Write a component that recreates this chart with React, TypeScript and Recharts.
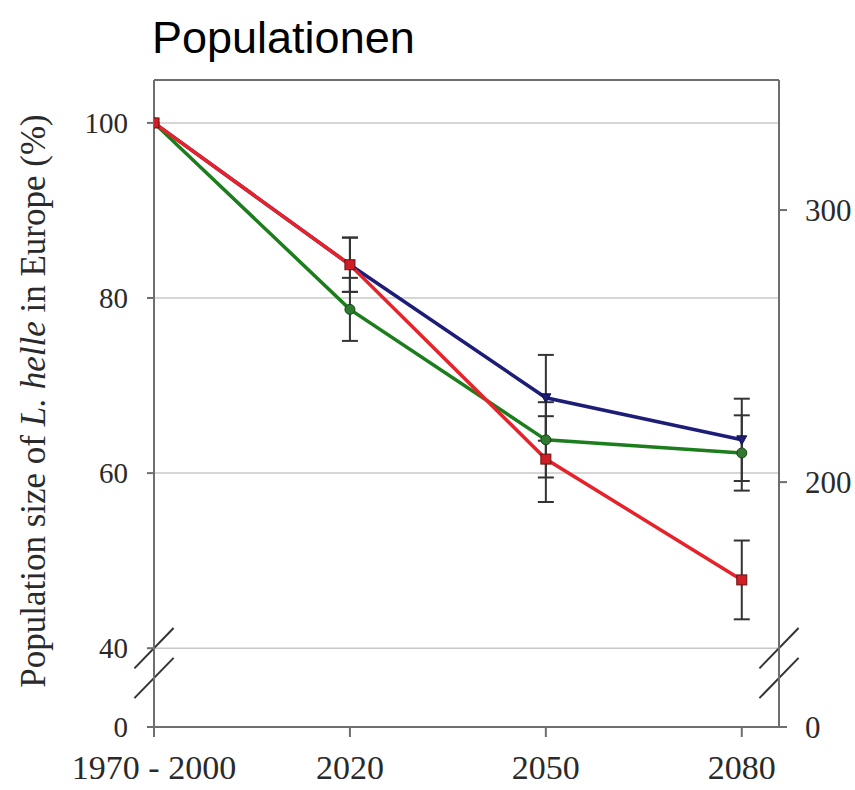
import React from "react";
import { LineChart, Line, XAxis, YAxis, ErrorBar, ReferenceLine } from "recharts";

// x categories (placed at 0,1,2,3 on a numeric axis so the frame can run past 2080)
const categories = ["1970 - 2000", "2020", "2050", "2080"];

// population size (% of 1970-2000), three scenarios
const blueValues = [100, 83.8, 68.6, 63.8];
const blueErrors = [0, 3.1, 4.9, 4.7];
const greenValues = [100, 78.7, 63.8, 62.3];
const greenErrors = [0, 3.6, 4.3, 4.3];
const redValues = [100, 83.8, 61.6, 47.8];
const redErrors = [0, 3.1, 4.9, 4.5];

// broken axes: the lowest tick stands for "0"
const leftBreakZero = 31;
const leftTop = 104.9;
const leftTicks = [leftBreakZero, 40, 60, 80, 100];
const gridValues = [40, 60, 80, 100];
const rightBreakZero = 110;
const rightTicks = [rightBreakZero, 200, 300];
const xMax = 3.19;

const data = categories.map((c, i) => ({
  idx: i,
  label: c,
  blue: blueValues[i],
  blueErr: blueErrors[i],
  green: greenValues[i],
  greenErr: greenErrors[i],
  red: redValues[i],
  redErr: redErrors[i],
}));

const axisColor = "#6e6e6e";
const serif = "'Liberation Serif', 'DejaVu Serif', serif";

const SquareDot = (props: any) => {
  const { cx, cy } = props;
  if (cx == null || cy == null) return null;
  return <rect x={cx - 5} y={cy - 5} width={10} height={10} fill="#cf1f26" stroke="#6e1010" strokeWidth={1} />;
};

const CircleDot = (props: any) => {
  const { cx, cy } = props;
  if (cx == null || cy == null) return null;
  return <circle cx={cx} cy={cy} r={5} fill="#2f7a2f" stroke="#174417" strokeWidth={1} />;
};

const TriangleDot = (props: any) => {
  const { cx, cy } = props;
  if (cx == null || cy == null) return null;
  return (
    <polygon
      points={`${cx - 5},${cy - 4} ${cx + 5},${cy - 4} ${cx},${cy + 5}`}
      fill="#1d1d78"
      stroke="#10104a"
      strokeWidth={1}
    />
  );
};

const YLabel = () => (
  <text
    x={45}
    y={401}
    transform="rotate(-90, 45, 401)"
    textAnchor="middle"
    fontFamily={serif}
    fontSize={35}
    fill="#2a2a2a"
  >
    <tspan>Population size of </tspan>
    <tspan fontStyle="italic">L. helle</tspan>
    <tspan> in Europe (%)</tspan>
  </text>
);

// the "//" marks across each axis at the break
const breakMarks = [
  { x: 0, y: 40 },
  { x: 0, y: 36.6 },
  { x: xMax, y: 40 },
  { x: xMax, y: 36.6 },
];

export default function App() {
  return (
    <div style={{ position: "absolute", left: 0, top: 0, width: 855, height: 790, background: "#fff" }}>
      <div
        style={{
          position: "absolute",
          left: 152,
          top: 12,
          fontFamily: "'Liberation Sans', Arial, sans-serif",
          fontSize: 45,
          lineHeight: "52px",
          color: "#000",
        }}
      >
        Populationen
      </div>
      <LineChart
        width={855}
        height={790}
        data={data}
        margin={{ top: 80, right: 0, bottom: 0, left: 0 }}
      >
        <XAxis
          xAxisId="bottom"
          type="number"
          dataKey="idx"
          domain={[0, xMax]}
          ticks={[0, 1, 2, 3]}
          tickFormatter={(v: number) => categories[v] ?? ""}
          allowDataOverflow
          height={63}
          tickSize={10}
          tickMargin={18}
          axisLine={{ stroke: axisColor, strokeWidth: 2 }}
          tickLine={{ stroke: axisColor, strokeWidth: 2 }}
          tick={{ fontFamily: serif, fontSize: 34, fill: "#2a2a2a" }}
        />
        <YAxis
          yAxisId="left"
          type="number"
          domain={[leftBreakZero, leftTop]}
          ticks={leftTicks}
          allowDataOverflow
          width={154}
          tickSize={7}
          tickMargin={19}
          tickFormatter={(v: number) => (v === leftBreakZero ? "0" : String(v))}
          axisLine={{ stroke: axisColor, strokeWidth: 2 }}
          tickLine={{ stroke: axisColor, strokeWidth: 2 }}
          tick={{ fontFamily: serif, fontSize: 29, fill: "#2a2a2a" }}
          label={<YLabel />}
        />
        <YAxis
          yAxisId="right"
          orientation="right"
          type="number"
          domain={[rightBreakZero, 347.8]}
          ticks={rightTicks}
          allowDataOverflow
          width={76}
          tickSize={8}
          tickMargin={18}
          tickFormatter={(v: number) => (v === rightBreakZero ? "0" : String(v))}
          axisLine={{ stroke: axisColor, strokeWidth: 2 }}
          tickLine={{ stroke: axisColor, strokeWidth: 2 }}
          tick={{ fontFamily: serif, fontSize: 31, fill: "#2a2a2a" }}
        />
        {gridValues.map((v) => (
          <ReferenceLine
            key={`g-${v}`}
            xAxisId="bottom"
            yAxisId="left"
            y={v}
            stroke="#c8c8c8"
            strokeWidth={1.5}
          />
        ))}
        {/* top frame line */}
        <ReferenceLine
          xAxisId="bottom"
          yAxisId="left"
          y={leftTop}
          ifOverflow="visible"
          stroke={axisColor}
          strokeWidth={2}
        />
        {breakMarks.map((m, i) => (
          <ReferenceLine
            key={`b-${i}`}
            xAxisId="bottom"
            yAxisId="left"
            ifOverflow="visible"
            segment={[
              { x: m.x - 0.1, y: m.y - 2.3 },
              { x: m.x + 0.1, y: m.y + 2.3 },
            ]}
            stroke="#333"
            strokeWidth={2}
          />
        ))}
        <Line
          xAxisId="bottom"
          yAxisId="left"
          dataKey="blue"
          stroke="#1d1d78"
          strokeWidth={3.5}
          dot={<TriangleDot />}
          isAnimationActive={false}
        >
          <ErrorBar dataKey="blueErr" direction="y" width={8} stroke="#333" strokeWidth={2} />
        </Line>
        <Line
          xAxisId="bottom"
          yAxisId="left"
          dataKey="green"
          stroke="#1c7d1c"
          strokeWidth={3.5}
          dot={<CircleDot />}
          isAnimationActive={false}
        >
          <ErrorBar dataKey="greenErr" direction="y" width={8} stroke="#333" strokeWidth={2} />
        </Line>
        <Line
          xAxisId="bottom"
          yAxisId="left"
          dataKey="red"
          stroke="#e6232b"
          strokeWidth={3.5}
          dot={<SquareDot />}
          isAnimationActive={false}
        >
          <ErrorBar dataKey="redErr" direction="y" width={8} stroke="#333" strokeWidth={2} />
        </Line>
      </LineChart>
    </div>
  );
}
